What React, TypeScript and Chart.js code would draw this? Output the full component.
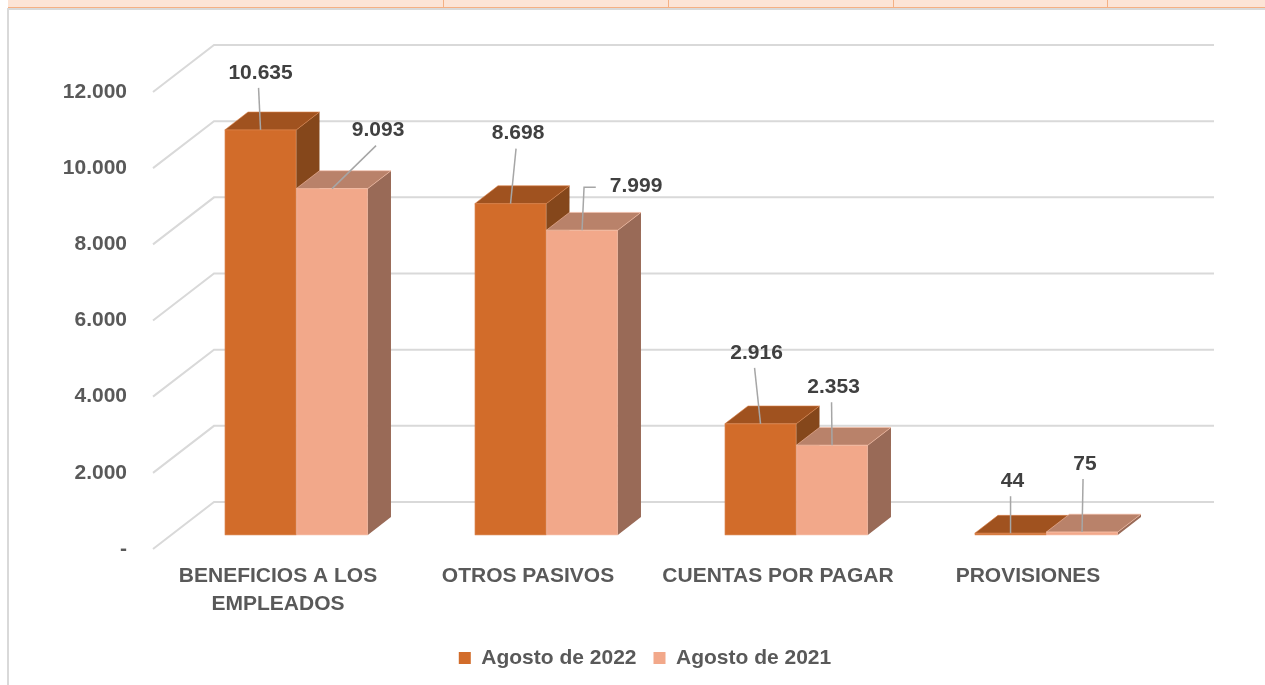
import React, { useEffect, useRef } from "react";
import { Chart, registerables } from "chart.js";

Chart.register(...registerables);

// ---- data ----
const categories: (string | string[])[] = [
  ["BENEFICIOS A LOS", "EMPLEADOS"],
  "OTROS PASIVOS",
  "CUENTAS POR PAGAR",
  "PROVISIONES",
];
const seriesNames = ["Agosto de 2022", "Agosto de 2021"];
const values2022 = [10635, 8698, 2916, 44];
const values2021 = [9093, 7999, 2353, 75];
const yTicks = [0, 2000, 4000, 6000, 8000, 10000, 12000];

// ---- styles ----
const FONT = "'Liberation Sans', Arial, sans-serif";
const faceColors = [
  { front: "#D26C2A", top: "#A0521F", side: "#85471B", edge: "#DA8148" },
  { front: "#F2A88A", top: "#B9826A", side: "#996A57", edge: "#F6BCA4" },
];
// label placement offsets relative to bar top-front centre (layout only)
const labelOffsets = [
  [[0, -57], [7.5, -70], [-4, -71], [2, -52]],
  [[46, -58], [54, -44], [1.5, -58], [3, -68]],
];
const DEPTH = { x: 61, y: -47 };
const BAR_FRONT = 0.3;
const BAR_BACK = 0.68;

const fmt = (v: number) =>
  v === 0 ? "-" : String(Math.round(v)).replace(/\B(?=(\d{3})+(?!\d))/g, ".");

const bar3d = {
  id: "bar3d",
  beforeDatasetsDraw(chart: any) {
    const { ctx, chartArea } = chart;
    const ys = chart.scales.y;
    ctx.save();
    ctx.strokeStyle = "#D9D9D9";
    ctx.lineWidth = 2;
    for (const v of yTicks) {
      const y = ys.getPixelForValue(v);
      ctx.beginPath();
      ctx.moveTo(chartArea.left, y);
      ctx.lineTo(chartArea.left + DEPTH.x, y + DEPTH.y);
      ctx.lineTo(chartArea.right + DEPTH.x, y + DEPTH.y);
      ctx.stroke();
    }
    ctx.restore();
  },
  beforeDatasetDraw() {
    return false;
  },
  afterDatasetsDraw(chart: any) {
    const { ctx } = chart;
    const ox = DEPTH.x * BAR_FRONT;
    const oy = DEPTH.y * BAR_FRONT;
    const dx = DEPTH.x * (BAR_BACK - BAR_FRONT);
    const dy = DEPTH.y * (BAR_BACK - BAR_FRONT);
    const n = categories.length;
    const nd = chart.data.datasets.length;
    ctx.save();
    for (let i = 0; i < n; i++) {
      for (let d = 0; d < nd; d++) {
        const el: any = chart.getDatasetMeta(d).data[i];
        const c = faceColors[d];
        const x0 = el.x - el.width / 2 + ox;
        const x1 = el.x + el.width / 2 + ox;
        const yt = el.y + oy;
        const yb = el.base + oy;
        ctx.lineWidth = 1;
        ctx.strokeStyle = c.edge;
        // front
        ctx.fillStyle = c.front;
        ctx.fillRect(x0, yt, x1 - x0, yb - yt);
        // side
        ctx.beginPath();
        ctx.moveTo(x1, yt);
        ctx.lineTo(x1 + dx, yt + dy);
        ctx.lineTo(x1 + dx, yb + dy);
        ctx.lineTo(x1, yb);
        ctx.closePath();
        ctx.fillStyle = c.side;
        ctx.fill();
        // top
        ctx.beginPath();
        ctx.moveTo(x0, yt);
        ctx.lineTo(x1, yt);
        ctx.lineTo(x1 + dx, yt + dy);
        ctx.lineTo(x0 + dx, yt + dy);
        ctx.closePath();
        ctx.fillStyle = c.top;
        ctx.fill();
        ctx.globalAlpha = 0.6;
        ctx.stroke();
        ctx.strokeRect(x0 + 0.5, yt, x1 - x0 - 1, yb - yt);
        ctx.globalAlpha = 1;
      }
    }
    // labels
    ctx.font = `bold 21px ${FONT}`;
    ctx.textAlign = "center";
    ctx.textBaseline = "middle";
    for (let d = 0; d < nd; d++) {
      const meta = chart.getDatasetMeta(d);
      const vals = chart.data.datasets[d].data as number[];
      for (let i = 0; i < n; i++) {
        const el: any = meta.data[i];
        const px = el.x + ox;
        const py = el.y + oy;
        const [ldx, ldy] = labelOffsets[d][i];
        const lx = px + ldx;
        const ly = py + ldy;
        const text = fmt(vals[i]);
        const tw = ctx.measureText(text).width;
        ctx.strokeStyle = "#A6A6A6";
        ctx.lineWidth = 1.5;
        ctx.beginPath();
        if (Math.abs(ldx) > Math.abs(ldy)) {
          const sx = lx - tw / 2 - 14;
          ctx.moveTo(sx, ly + 1);
          ctx.lineTo(px + 2, ly + 1);
          ctx.lineTo(px, py);
        } else {
          ctx.moveTo(lx - 2, ly + 15);
          ctx.lineTo(px, py);
        }
        ctx.stroke();
        ctx.fillStyle = "#404040";
        ctx.fillText(text, lx, ly);
      }
    }
    ctx.restore();
  },
};

export default function App() {
  const ref = useRef<HTMLCanvasElement>(null);
  useEffect(() => {
    if (!ref.current) return;
    Chart.defaults.font.family = FONT;
    const chart = new Chart(ref.current, {
      type: "bar",
      data: {
        labels: categories as any,
        datasets: [
          {
            label: seriesNames[0],
            data: values2022,
            backgroundColor: faceColors[0].front,
            categoryPercentage: 0.572,
            barPercentage: 1,
          },
          {
            label: seriesNames[1],
            data: values2021,
            backgroundColor: faceColors[1].front,
            categoryPercentage: 0.572,
            barPercentage: 1,
          },
        ],
      },
      options: {
        responsive: false,
        animation: false,
        layout: { padding: { left: 25, right: 0, top: 92, bottom: 6.5 } },
        plugins: {
          legend: {
            position: "bottom",
            labels: {
              boxWidth: 12,
              boxHeight: 12,
              padding: 17,
              color: "#595959",
              font: { size: 21, weight: "bold", family: FONT },
            },
          },
          tooltip: { enabled: false },
        },
        scales: {
          x: {
            grid: { display: false, drawTicks: false },
            border: { display: false },
            ticks: {
              padding: 14,
              color: "#595959",
              maxRotation: 0,
              autoSkip: false,
              font: { size: 21, weight: "bold", family: FONT, lineHeight: 1.3 },
            },
            afterFit: (s: any) => {
              s.height = 81.5;
            },
          },
          y: {
            min: 0,
            max: 12000,
            grid: { display: false, drawTicks: false },
            border: { display: false },
            afterBuildTicks: (s: any) => {
              s.ticks = yTicks.map((v) => ({ value: v }));
            },
            ticks: {
              padding: 26,
              color: "#595959",
              font: { size: 21, weight: "bold", family: FONT },
              callback: (v: any) => fmt(Number(v)),
            },
            afterFit: (s: any) => {
              s.width = 128;
            },
          },
          y2: {
            position: "right",
            display: true,
            grid: { display: false, drawTicks: false },
            border: { display: false },
            ticks: { display: false },
            afterFit: (s: any) => {
              s.width = 112;
            },
          },
        },
      } as any,
      plugins: [bar3d],
    });
    return () => chart.destroy();
  }, []);

  const stripLines = [443, 668, 893, 1107];
  return (
    <div
      style={{
        position: "fixed",
        left: 0,
        top: 0,
        width: 1265,
        height: 685,
        overflow: "hidden",
        background: "#fff",
      }}
    >
      <div
        style={{
          position: "absolute",
          left: 8,
          top: 0,
          width: 1265,
          height: 7,
          background: "#FCE4D6",
          borderBottom: "1px solid #F4B084",
        }}
      />
      {stripLines.map((x) => (
        <div
          key={x}
          style={{
            position: "absolute",
            left: x,
            top: 0,
            width: 1,
            height: 7,
            background: "#F4B084",
          }}
        />
      ))}
      <div
        style={{
          position: "absolute",
          left: 7,
          top: 8,
          width: 1300,
          height: 700,
          borderLeft: "2px solid #D9D9D9",
          borderTop: "2px solid #D9D9D9",
        }}
      />
      <canvas
        ref={ref}
        width={1265}
        height={685}
        style={{ position: "absolute", left: 0, top: 0 }}
      />
    </div>
  );
}
